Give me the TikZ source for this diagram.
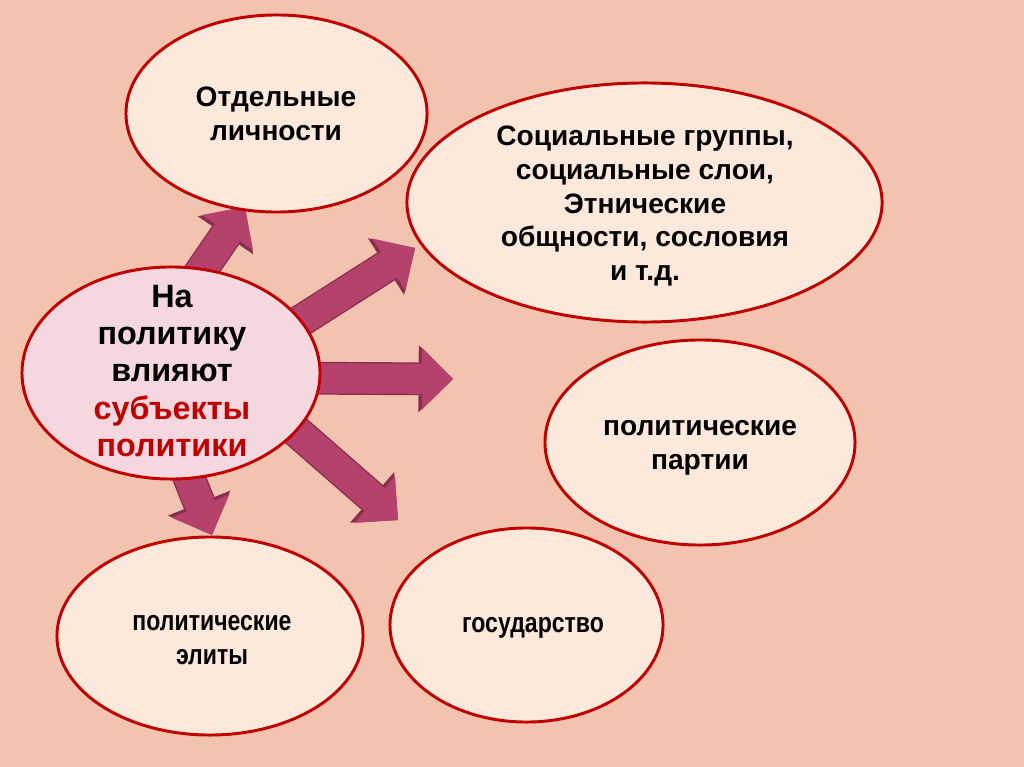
\documentclass[tikz,border=0pt]{standalone}
\usepackage{fontspec}
\setmainfont{Liberation Sans}
\newfontfamily\narrowfont[FakeStretch=0.82]{Liberation Sans}
\usetikzlibrary{shapes.geometric,arrows.meta}

\definecolor{slidebg}{HTML}{F2C4AF}
\definecolor{ovalfill}{HTML}{FDE9DB}
\definecolor{ovalline}{HTML}{C00000}
\definecolor{hubfill}{HTML}{F4D7DF}
\definecolor{redtxt}{HTML}{C00000}
\definecolor{arrfill}{HTML}{B5416D}
\definecolor{arrline}{HTML}{8A2E50}

\pgfdeclarelayer{back}
\pgfsetlayers{back,main}

\tikzset{
	oval/.style={shape=ellipse, draw=ovalline, fill=ovalfill, line width=2.1pt, inner sep=0pt},
	hub/.style={oval, fill=hubfill},
	txt/.style={align=center, font=\fontsize{20}{24}\selectfont\bfseries},
	hubtxt/.style={align=center, font=\fontsize{23}{26.5}\selectfont\bfseries},
	narrowtxt/.style={align=center, font=\fontsize{20}{24}\selectfont\narrowfont\bfseries},
	bigarrow/.style={draw=arrfill, line width=0.75cm, shorten <=-0.5cm,
		-{Triangle[length=0.775cm, width=1.55cm, line width=0pt]},
		preaction={draw=arrline, line width=0.82cm,
			-{Triangle[length=0.86cm, width=1.68cm, line width=0pt]}}}
}

\begin{document}
\begin{tikzpicture}[x=0.025cm, y=-0.025cm]
	
	\useasboundingbox (0,0) rectangle (1024,767);
	\begin{pgfonlayer}{back}
		\fill[slidebg] (0,0) rectangle (1024,767);
	\end{pgfonlayer}
	
	% ovals
	\node[oval, minimum width=7.525cm, minimum height=4.925cm] (pers) at (276.5,113.5) {};
	\node[oval, minimum width=11.875cm, minimum height=5.975cm] (soc) at (644.5,202.5) {};
	\node[hub, minimum width=7.45cm, minimum height=5.3cm] (hub) at (171,373) {};
	\node[oval, minimum width=7.75cm, minimum height=5.125cm] (part) at (700,442.5) {};
	\node[oval, minimum width=6.825cm, minimum height=4.85cm] (gos) at (526.5,625) {};
	\node[oval, minimum width=7.65cm, minimum height=4.95cm] (elit) at (210,636) {};
	
	% texts
	\node[txt] (persT) at (276,114) {Отдельные\\личности};
	\node[txt] (socT) at (645,206) {Социальные группы,\\социальные слои,\\Этнические\\общности, сословия\\и т.д.};
	\node[hubtxt] (hubT) at (172,371) {На\\политику\\влияют\\\textcolor{redtxt}{субъекты}\\\textcolor{redtxt}{политики}};
	\node[txt] (partT) at (700,448) {политические\\партии};
	\node[narrowtxt] (gosT) at (533,628) {государство};
	\node[narrowtxt] (elitT) at (212,640) {политические\\элиты};
	
	% arrow ends
	\coordinate (tipPers) at (245,207);
	\coordinate (tipSoc) at (415,248);
	\coordinate (tipPart) at (453,379);
	\coordinate (tipGos) at (398,520);
	\coordinate (tipElit) at (212,535);
	
	\begin{pgfonlayer}{back}
		\draw[bigarrow] (hub.73) -- (tipPers);
		\draw[bigarrow] (hub.22) -- (tipSoc);
		\draw[bigarrow] (hub.-2) -- (tipPart);
		\draw[bigarrow] (hub.-25) -- (tipGos);
		\draw[bigarrow] (hub.-80) -- (tipElit);
	\end{pgfonlayer}
	
\end{tikzpicture}
\end{document}
